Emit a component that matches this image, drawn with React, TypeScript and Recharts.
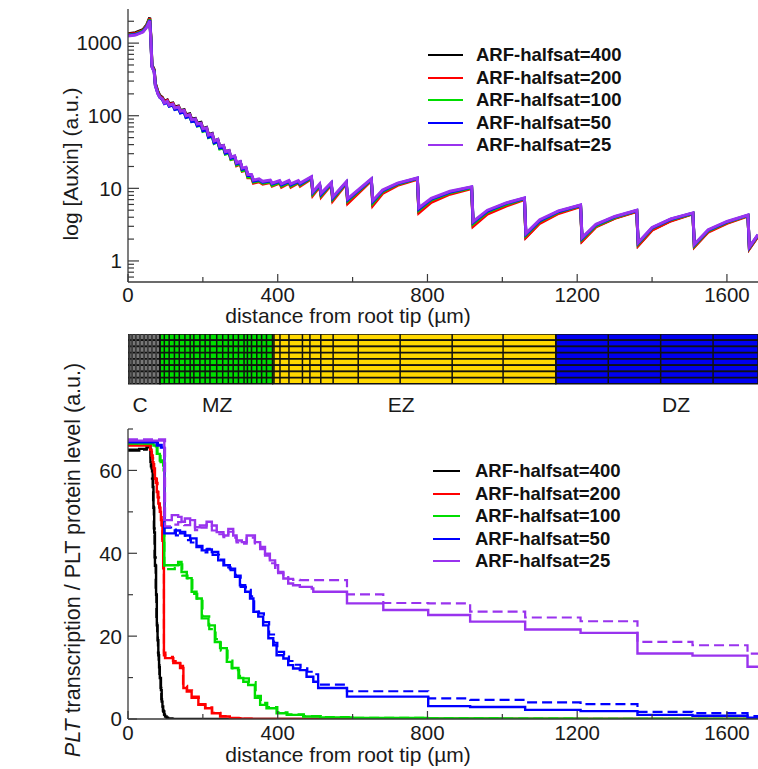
import React from 'react';
import { LineChart, Line, XAxis, YAxis, BarChart, Bar, ReferenceLine, Legend } from 'recharts';

const FONT = '"Liberation Sans", Arial, Helvetica, sans-serif';
const INK = '#1a1a1a';
const FRAME = '#3a3a3a';
const MAX_D = 1683;

// series (ARF half-saturation)
const halfsatNames = ['ARF-halfsat=400', 'ARF-halfsat=200', 'ARF-halfsat=100', 'ARF-halfsat=50', 'ARF-halfsat=25'];
const halfsatColors = ['#000000', '#ff0000', '#00dd00', '#0000ff', '#9933ee'];

// panel a: auxin along the root
const auxinDist = [
  0, 20, 40, 50, 58, 61, 64, 70, 73, 80,
  85, 92, 97, 105, 110, 120, 125, 135, 140, 150,
  155, 165, 170, 180, 185, 195, 200, 210, 215, 225,
  230, 240, 245, 255, 260, 270, 275, 285, 290, 300,
  305, 315, 320, 330, 335, 350, 360, 380, 385, 405,
  410, 430, 435, 455, 460, 490, 494, 512, 516, 543,
  547, 583, 587, 650, 654, 680, 720, 773, 777, 810,
  860, 918, 922, 960, 1010, 1059, 1063, 1100, 1150, 1209,
  1213, 1250, 1300, 1359, 1363, 1400, 1450, 1509, 1513, 1550,
  1600, 1656, 1660, 1683,
];
const auxin400 = [
  1350, 1390, 1530, 1780, 2250, 1250, 500, 430, 280, 215,
  190, 178, 158, 165, 146, 150, 132, 136, 118, 121,
  103, 106, 90, 92, 79, 81, 67, 69, 55, 57,
  45, 47, 38, 39, 32, 33, 26.5, 27.5, 22, 23,
  18.5, 19, 15, 15, 12.5, 13, 12, 12.5, 11.2, 12.3,
  10.9, 12.3, 10.9, 12.3, 11.2, 14, 8.4, 11, 8, 11.5,
  7, 11.8, 6.5, 13.1, 6.1, 8.8, 11.3, 13.6, 4.8, 6.7,
  8.6, 10.2, 3.1, 4.6, 5.9, 7.2, 2.15, 3.4, 4.6, 5.7,
  1.9, 3.0, 3.9, 4.85, 1.65, 2.7, 3.6, 4.5, 1.58, 2.55,
  3.35, 4.2, 1.48, 2.2,
];
const auxin200 = [
  1320, 1360, 1500, 1750, 2200, 1220, 490, 420, 275, 210,
  186, 174, 155, 162, 143, 147, 129, 133, 115, 118,
  100, 103, 87, 89, 76, 78, 64, 66, 52, 54,
  43, 45, 36, 37, 30, 31, 25, 26, 20.5, 21.5,
  17.2, 17.7, 14, 14, 11.8, 12.3, 11.4, 12, 10.7, 11.8,
  10.4, 11.8, 10.4, 11.9, 10.7, 13.6, 8, 10.6, 7.6, 11.2,
  6.7, 11.5, 6.2, 12.8, 5.8, 8.5, 11, 13.3, 4.6, 6.4,
  8.3, 9.9, 3.0, 4.4, 5.7, 7.0, 2.1, 3.3, 4.5, 5.6,
  1.87, 2.95, 3.85, 4.8, 1.63, 2.65, 3.55, 4.45, 1.56, 2.5,
  3.3, 4.15, 1.47, 2.18,
];
const auxin100 = [
  1290, 1330, 1470, 1710, 2130, 1190, 480, 410, 268, 204,
  181, 169, 149, 155, 136, 141, 123, 127, 110, 113,
  95, 98, 83, 85, 72, 74, 61, 63, 50, 52,
  41.5, 43.5, 35, 36, 29.5, 30.5, 25, 26, 21, 22,
  17.5, 18, 14.3, 14.3, 12.2, 12.7, 11.8, 12.3, 11, 12.1,
  10.8, 12.1, 10.8, 12.2, 11.1, 13.9, 8.4, 10.9, 8, 11.5,
  7.1, 11.8, 6.7, 13.1, 6.3, 9.0, 11.4, 13.6, 5.0, 6.9,
  8.7, 10.2, 3.25, 4.7, 6.0, 7.2, 2.25, 3.5, 4.7, 5.75,
  1.98, 3.05, 3.95, 4.9, 1.72, 2.8, 3.7, 4.5, 1.63, 2.6,
  3.4, 4.22, 1.52, 2.25,
];
const auxin50 = [
  1270, 1310, 1440, 1680, 2080, 1170, 475, 405, 263, 201,
  179, 167, 147, 153, 135, 140, 122, 126, 109, 112,
  95, 98, 83, 85, 73, 75, 62, 64, 51, 53,
  42.5, 44.5, 36, 37, 30.5, 31.5, 26, 27, 21.8, 22.8,
  18.4, 18.9, 15, 15, 12.6, 13.1, 12.2, 12.7, 11.5, 12.5,
  11.2, 12.5, 11.2, 12.5, 11.5, 14.2, 8.8, 11.2, 8.3, 11.8,
  7.4, 12.1, 7.0, 13.3, 6.6, 9.3, 11.6, 13.8, 5.2, 7.1,
  8.9, 10.4, 3.4, 4.85, 6.2, 7.3, 2.35, 3.6, 4.8, 5.85,
  2.05, 3.15, 4.05, 4.95, 1.77, 2.85, 3.75, 4.55, 1.67, 2.65,
  3.45, 4.27, 1.54, 2.28,
];
const auxin25 = [
  1250, 1290, 1420, 1650, 2030, 1150, 470, 400, 260, 200,
  180, 170, 150, 158, 140, 145, 128, 132, 115, 118,
  100, 103, 88, 90, 77, 79, 66, 68, 54, 56,
  45, 47, 38, 39, 32, 33, 27, 28, 22.5, 23.5,
  19, 19.5, 15.5, 15.5, 13, 13.5, 12.5, 13, 11.8, 12.8,
  11.5, 12.8, 11.5, 12.8, 11.8, 14.5, 9, 11.5, 8.6, 12,
  7.6, 12.3, 7.2, 13.5, 6.8, 9.5, 11.8, 13.9, 5.4, 7.3,
  9.1, 10.5, 3.5, 5.0, 6.3, 7.4, 2.4, 3.7, 4.9, 5.9,
  2.1, 3.2, 4.1, 5.0, 1.8, 2.9, 3.8, 4.6, 1.7, 2.7,
  3.5, 4.3, 1.56, 2.3,
];

// panel b: PLT steps [distance, level]; solid = protein, dashed = transcription
const plt400Solid: [number, number][] = [
  [0, 64.8], [30, 65.2], [50, 65.6], [57, 65.8], [60, 62], [63, 60.5], [66, 56], [68, 51], [70, 45],
  [72, 37], [75, 30], [77, 22.6], [79, 19], [81, 15.4], [83, 12.5], [85, 9.9], [88, 7], [90, 4.2],
  [92, 3], [94, 1.8], [97, 1], [99, 0.6], [103, 0.3], [107, 0.1], [120, 0], [1700, 0],
];
const plt400Dashed: [number, number][] = [
  [0, 65], [50, 65.8], [58, 66], [61, 61], [64, 58], [67, 52], [69, 46], [71, 39], [74, 31], [76, 24],
  [78, 20], [80, 16], [82, 13], [84, 10.5], [87, 7.5], [89, 4.8], [91, 3.2], [93, 2], [96, 1.1],
  [98, 0.7], [102, 0.3], [106, 0.1], [118, 0], [1700, 0],
];
const plt200Solid: [number, number][] = [
  [0, 66], [55, 66], [59, 65], [63, 63.6], [66, 62], [68, 60.5], [72, 58], [77, 54.8], [81, 52],
  [85, 50], [88, 48], [90, 46.7], [92, 43], [94, 37], [96, 15.4], [99, 14.7], [121, 13.5], [139, 12.3],
  [148, 7.5], [157, 6.6], [170, 5.1], [188, 3.4], [206, 2.6], [224, 1.4], [246, 0.6], [272, 0.2],
  [300, 0.05], [330, 0], [1700, 0],
];
const plt200Dashed: [number, number][] = [
  [0, 66.2], [57, 66.2], [61, 65], [64, 63], [67, 61.5], [70, 59.5], [74, 57], [79, 53.5], [83, 51],
  [87, 49], [90, 46], [92, 42], [94, 36], [96, 16], [100, 15], [120, 14], [140, 12.8], [147, 8],
  [158, 6.9], [171, 5.4], [189, 3.6], [207, 2.8], [225, 1.5], [247, 0.7], [273, 0.25], [300, 0.06],
  [330, 0], [1700, 0],
];
const plt100Solid: [number, number][] = [
  [0, 66.5], [63, 66.5], [68, 66], [77, 64], [85, 62.4], [94, 61.2], [97, 37.1], [134, 37.9],
  [143, 35.5], [157, 34], [170, 30.7], [183, 29.1], [197, 24.3], [215, 22.6], [232, 18.6], [246, 17.1],
  [264, 13.8], [277, 12.3], [295, 9.9], [308, 9], [321, 8.2], [339, 5.1], [353, 3.4], [370, 2.6],
  [397, 1.4], [424, 1], [468, 0.6], [513, 0.4], [600, 0.25], [800, 0.12], [1000, 0.05], [1200, 0],
  [1700, 0],
];
const plt100Dashed: [number, number][] = [
  [0, 66.6], [65, 66.6], [70, 65.8], [79, 63.5], [87, 62], [95, 60], [97, 36.2], [125, 36.5],
  [136, 37.3], [145, 34.6], [159, 33.5], [172, 30.2], [185, 28.5], [199, 24.8], [217, 21.7],
  [234, 19.3], [248, 16.5], [266, 14.6], [279, 11.8], [297, 10.4], [310, 9.8], [323, 8.9], [341, 5.6],
  [355, 3.9], [372, 2.9], [399, 1.6], [426, 1.1], [470, 0.7], [515, 0.45], [600, 0.3], [800, 0.15],
  [1000, 0.08], [1200, 0.02], [1700, 0.02],
];
const plt50Solid: [number, number][] = [
  [0, 66.8], [68, 66.8], [77, 66], [88, 65.5], [97, 44.8], [125, 45.5], [139, 44.8], [152, 44.3],
  [166, 43.6], [183, 41.5], [197, 40.7], [210, 40.9], [224, 40.3], [241, 38.3], [255, 37.1],
  [272, 36.3], [286, 34.3], [299, 32.3], [313, 30.7], [326, 29.1], [335, 25.9], [348, 24.7],
  [361, 22.6], [375, 19.5], [388, 17.8], [397, 15.4], [415, 14.6], [428, 13], [441, 12.2], [459, 11.8],
  [477, 10.2], [495, 9], [508, 7.5], [585, 5.4], [802, 3.1], [914, 2.9], [1061, 2.2], [1209, 1.9],
  [1361, 1.0], [1508, 0.8], [1655, 0.3], [1700, 0.3],
];
const plt50Dashed: [number, number][] = [
  [0, 67], [70, 67], [80, 66.2], [90, 65.6], [97, 46.2], [115, 45.7], [128, 44.3], [140, 45.2],
  [153, 43.2], [168, 42.6], [185, 41.8], [199, 40.2], [212, 41.1], [226, 39.6], [243, 38.5],
  [257, 36.6], [274, 35.9], [288, 34.6], [301, 31.9], [315, 31.2], [328, 29.6], [337, 26.4],
  [350, 25.5], [363, 23.4], [377, 20.4], [390, 18.4], [399, 16.2], [417, 15.4], [430, 14], [443, 13.1],
  [461, 12.2], [479, 11.4], [497, 10.8], [508, 8.3], [585, 6.7], [802, 5.0], [914, 4.6], [1061, 4.0],
  [1209, 3.6], [1361, 1.7], [1508, 1.4], [1655, 0.7], [1700, 0.7],
];
const plt25Solid: [number, number][] = [
  [0, 67.2], [94, 67.2], [97, 48], [117, 49.2], [134, 48.8], [143, 47.6], [152, 48.4], [166, 48],
  [179, 46.3], [192, 46.7], [210, 47.6], [224, 46.7], [237, 45.1], [255, 44.3], [268, 45.9],
  [281, 44.3], [290, 43.1], [304, 42.7], [317, 44.3], [330, 44.3], [339, 42.7], [353, 41.5],
  [366, 39.9], [379, 38.3], [393, 37.1], [401, 35.5], [415, 33.9], [428, 32.7], [441, 32.3],
  [459, 31.9], [491, 31.5], [495, 30.7], [585, 27.9], [682, 26.3], [802, 25.1], [914, 23.5],
  [1061, 21.6], [1209, 20.8], [1361, 15.8], [1508, 15.3], [1655, 12.6], [1700, 12.6],
];
const plt25Dashed: [number, number][] = [
  [0, 67.5], [96, 67.5], [99, 46.5], [117, 46.9], [134, 47.5], [150, 46.8], [166, 47.5], [179, 45.6],
  [192, 46.2], [210, 46.9], [224, 45.5], [237, 44.6], [255, 43.9], [268, 45.2], [281, 43.8],
  [290, 42.6], [304, 42.3], [317, 43.6], [330, 43.8], [339, 42.1], [353, 41], [366, 39.4], [379, 37.6],
  [393, 36.5], [401, 35.2], [415, 34.5], [428, 33.8], [441, 33.6], [459, 33.5], [495, 33.5],
  [585, 30.1], [682, 28.0], [802, 27.9], [914, 25.9], [1061, 24.5], [1209, 23.6], [1361, 18.6],
  [1508, 17.8], [1655, 15.8], [1700, 15.8],
];

// root zones and cell walls (µm)
const zoneNames = ['C', 'MZ', 'EZ', 'DZ'];
const zoneLength = [85.5, 301, 756.5, 545];
const zoneColors = ['#787878', '#00dd00', '#ffd800', '#0000f0'];
const zoneLabelAt = [32, 238, 730, 1464];
const cellFileIds = [1, 2, 3, 4, 5, 6, 7, 8];
const capWalls = [4, 11, 21, 32, 43, 53, 64, 75];
const cellWalls = [
  85.5, 97, 110, 124, 137, 152, 166, 176, 192, 206, 219, 237, 253, 268, 281, 295, 310, 319, 330, 344,
  357, 370, 386, 390, 406, 430, 466, 486, 515, 548, 615, 727, 866, 1002, 1143, 1283, 1423, 1563,
];

// ticks
const distTicks = [0, 200, 400, 600, 800, 1000, 1200, 1400, 1600];
const auxinTicks = [
  0.6, 0.7, 0.8, 0.9, 1, 2, 3, 4, 5, 6, 7, 8, 9, 10, 20, 30, 40, 50, 60, 70, 80, 90,
  100, 200, 300, 400, 500, 600, 700, 800, 900, 1000, 2000,
];
const auxinMajor = [1, 10, 100, 1000];
const pltTicks = [0, 10, 20, 30, 40, 50, 60, 70];

const auxinRows = auxinDist.map((d, i) => ({
  d,
  a400: auxin400[i],
  a200: auxin200[i],
  a100: auxin100[i],
  a50: auxin50[i],
  a25: auxin25[i],
}));
const toRows = (s: [number, number][]) => s.map(([d, v]) => ({ d, v }));
const pltSolid = [plt400Solid, plt200Solid, plt100Solid, plt50Solid, plt25Solid];
const pltDashed = [plt400Dashed, plt200Dashed, plt100Dashed, plt50Dashed, plt25Dashed];

type Side = 'bottom' | 'top' | 'left' | 'right';
const makeTick = (side: Side, isMajor: (v: number) => boolean, long: number, short: number, labelDy = 20) =>
  (props: any) => {
    const { x, y, payload } = props;
    const v = payload.value;
    const major = isMajor(v);
    const len = major ? long : short;
    let x2 = x;
    let y2 = y;
    if (side === 'bottom') y2 = y - len;
    if (side === 'top') y2 = y + len;
    if (side === 'left') x2 = x + len;
    if (side === 'right') x2 = x - len;
    return (
      <g>
        <line x1={x} y1={y} x2={x2} y2={y2} stroke={FRAME} strokeWidth={1.2} />
        {major && side === 'bottom' && (
          <text x={x} y={y + labelDy} textAnchor="middle" fontFamily={FONT} fontSize={20.5} fill={INK}>
            {v}
          </text>
        )}
        {major && side === 'left' && (
          <text x={x - 6} y={y} dy="0.36em" textAnchor="end" fontFamily={FONT} fontSize={20.5} fill={INK}>
            {v}
          </text>
        )}
      </g>
    );
  };

const distTitle = (dy: number) => (props: any) => {
  const vb = props.viewBox;
  if (!vb) return null;
  return (
    <text x={vb.x + 220} y={vb.y + dy} textAnchor="middle" fontFamily={FONT} fontSize={21} fill={INK}>
      distance from root tip (µm)
    </text>
  );
};

const panelLetter = (letter: string, dx: number, dy: number) => (props: any) => {
  const vb = props.viewBox;
  if (!vb) return null;
  return (
    <text x={vb.x + dx} y={vb.y + dy} fontFamily={FONT} fontWeight={700} fontSize={23} fill={INK}>
      {letter}
    </text>
  );
};

const auxinTitle = (props: any) => {
  const vb = props.viewBox;
  if (!vb) return null;
  const cx = vb.x + 78;
  const cy = vb.y + 155;
  return (
    <text x={cx} y={cy} transform={`rotate(-90 ${cx} ${cy})`} textAnchor="middle" fontFamily={FONT} fontSize={21} fill={INK}>
      log [Auxin] (a.u.)
    </text>
  );
};

const pltTitle = (props: any) => {
  const vb = props.viewBox;
  if (!vb) return null;
  const cx = vb.x + 80;
  const cy = vb.y + 131;
  return (
    <text x={cx} y={cy} transform={`rotate(-90 ${cx} ${cy})`} textAnchor="middle" fontFamily={FONT} fontSize={21.5} fill={INK}>
      <tspan fontStyle="italic">PLT</tspan> transcription / PLT protein level (a.u.)
    </text>
  );
};

// legend lists the five solid series in their own order
const legendContent = (swatch: number, gap: number) => () => (
  <div style={{ fontFamily: FONT, fontWeight: 700, fontSize: 18.5, color: '#111' }}>
    {halfsatNames.map((name, i) => (
      <div key={name} style={{ display: 'flex', alignItems: 'center', height: 22.5, whiteSpace: 'nowrap' }}>
        <span style={{ display: 'inline-block', width: swatch, height: 0, borderTop: `2px solid ${halfsatColors[i]}`, marginRight: gap }} />
        <span>{name}</span>
      </div>
    ))}
  </div>
);

const frame = { stroke: FRAME, strokeWidth: 1.3 };

const AuxinChart = () => (
  <LineChart width={758} height={330} data={auxinRows} margin={{ top: 9, right: 0, bottom: 0, left: 0 }}>
    <XAxis dataKey="d" type="number" domain={[0, MAX_D]} allowDataOverflow ticks={distTicks} interval={0}
      height={48} tickSize={0} tickMargin={0} axisLine={frame} tickLine={false}
      tick={makeTick('bottom', (v) => v % 400 === 0, 8, 5, 20)} label={distTitle(41)} />
    <XAxis xAxisId="t" orientation="top" dataKey="d" type="number" domain={[0, MAX_D]} allowDataOverflow
      ticks={distTicks} interval={0} height={0} tickSize={0} tickMargin={0} axisLine={frame} tickLine={false}
      tick={makeTick('top', (v) => v % 400 === 0, 7, 4)} label={panelLetter('a', -115, 18)} />
    <YAxis type="number" scale="log" domain={[0.513, 2950]} allowDataOverflow ticks={auxinTicks} interval={0}
      width={128} tickSize={0} tickMargin={0} axisLine={frame} tickLine={false}
      tick={makeTick('left', (v) => auxinMajor.includes(v), 11, 6)} label={auxinTitle} />
    <YAxis yAxisId="r" orientation="right" type="number" scale="log" domain={[0.513, 2950]} allowDataOverflow
      ticks={auxinTicks} interval={0} width={0} tickSize={0} tickMargin={0} axisLine={frame} tickLine={false}
      tick={makeTick('right', (v) => auxinMajor.includes(v), 11, 6)} />
    <Legend layout="vertical" align="center" verticalAlign="middle"
      wrapperStyle={{ left: 428, top: 44, width: 260 }} content={legendContent(35, 13)} />
    {['a400', 'a200', 'a100', 'a50', 'a25'].map((k, i) => (
      <Line key={k} dataKey={k} name={halfsatNames[i]} stroke={halfsatColors[i]} strokeWidth={3}
        dot={false} type="linear" isAnimationActive={false} />
    ))}
  </LineChart>
);

const rootRows = cellFileIds.map((row) => ({
  row,
  c: zoneLength[0],
  mz: zoneLength[1],
  ez: zoneLength[2],
  dz: zoneLength[3],
}));

const RootZones = () => (
  <BarChart width={758} height={86} data={rootRows} layout="vertical" barCategoryGap={0}
    margin={{ top: 0, right: 0, bottom: 0, left: 128 }}>
    <XAxis type="number" domain={[0, MAX_D]} allowDataOverflow ticks={zoneLabelAt} interval={0}
      tickFormatter={(_v: number, i: number) => zoneNames[i]} height={36} tickSize={0} tickMargin={13}
      axisLine={false} tickLine={false} tick={{ fontFamily: FONT, fontSize: 21, fill: INK }} />
    <YAxis type="category" dataKey="row" hide />
    {['c', 'mz', 'ez', 'dz'].map((k, i) => (
      <Bar key={k} dataKey={k} stackId="z" fill={zoneColors[i]} stroke="#111" strokeWidth={1.3}
        isAnimationActive={false} />
    ))}
    {capWalls.map((w) => (
      <ReferenceLine key={`c${w}`} x={w} stroke="#3c3c3c" strokeWidth={1.8} />
    ))}
    {cellWalls.map((w) => (
      <ReferenceLine key={`w${w}`} x={w} stroke="#111" strokeWidth={1.5} />
    ))}
  </BarChart>
);

// chart box starts above the panel so the long y title fits
const PltChart = () => (
  <LineChart width={758} height={439} margin={{ top: 99, right: 0, bottom: 0, left: 0 }}>
    <XAxis dataKey="d" type="number" domain={[0, MAX_D]} allowDataOverflow ticks={distTicks} interval={0}
      height={50} tickSize={0} tickMargin={0} axisLine={frame} tickLine={false}
      tick={makeTick('bottom', (v) => v % 400 === 0, 8, 5, 21)} label={distTitle(43)} />
    <XAxis xAxisId="t" orientation="top" dataKey="d" type="number" domain={[0, MAX_D]} allowDataOverflow
      ticks={distTicks} interval={0} height={0} tickSize={0} tickMargin={0} axisLine={frame} tickLine={false}
      tick={makeTick('top', (v) => v % 400 === 0, 7, 4)} label={panelLetter('b', -117, 19)} />
    <YAxis type="number" domain={[0, 70]} allowDataOverflow ticks={pltTicks} interval={0}
      width={128} tickSize={0} tickMargin={0} axisLine={frame} tickLine={false}
      tick={makeTick('left', (v) => v % 20 === 0 && v < 70, 9, 5)} label={pltTitle} />
    <YAxis yAxisId="r" orientation="right" type="number" domain={[0, 70]} allowDataOverflow ticks={pltTicks}
      interval={0} width={0} tickSize={0} tickMargin={0} axisLine={frame} tickLine={false}
      tick={makeTick('right', (v) => v % 20 === 0 && v < 70, 9, 5)} />
    <Legend layout="vertical" align="center" verticalAlign="middle"
      wrapperStyle={{ left: 433, top: 130, width: 260 }} content={legendContent(27, 15)} />
    {pltSolid.map((s, i) => [
      <Line key={`d${i}`} data={toRows(pltDashed[i])} dataKey="v" name={`${halfsatNames[i]} transcription`}
        legendType="none" stroke={halfsatColors[i]} strokeWidth={2.2} strokeDasharray="10 5" dot={false}
        type="stepAfter" isAnimationActive={false} />,
      <Line key={`s${i}`} data={toRows(s)} dataKey="v" name={halfsatNames[i]} stroke={halfsatColors[i]}
        strokeWidth={2.4} dot={false} type="stepAfter" isAnimationActive={false} />,
    ])}
  </LineChart>
);

export default function App() {
  return (
    <div style={{ position: 'absolute', left: 0, top: 0, width: 758, height: 769, background: '#fff', overflow: 'hidden', fontFamily: FONT }}>
      <div style={{ position: 'absolute', left: 0, top: 0 }}>
        <AuxinChart />
      </div>
      <div style={{ position: 'absolute', left: 0, top: 334 }}>
        <RootZones />
      </div>
      <div style={{ position: 'absolute', left: 0, top: 330 }}>
        <PltChart />
      </div>
    </div>
  );
}
